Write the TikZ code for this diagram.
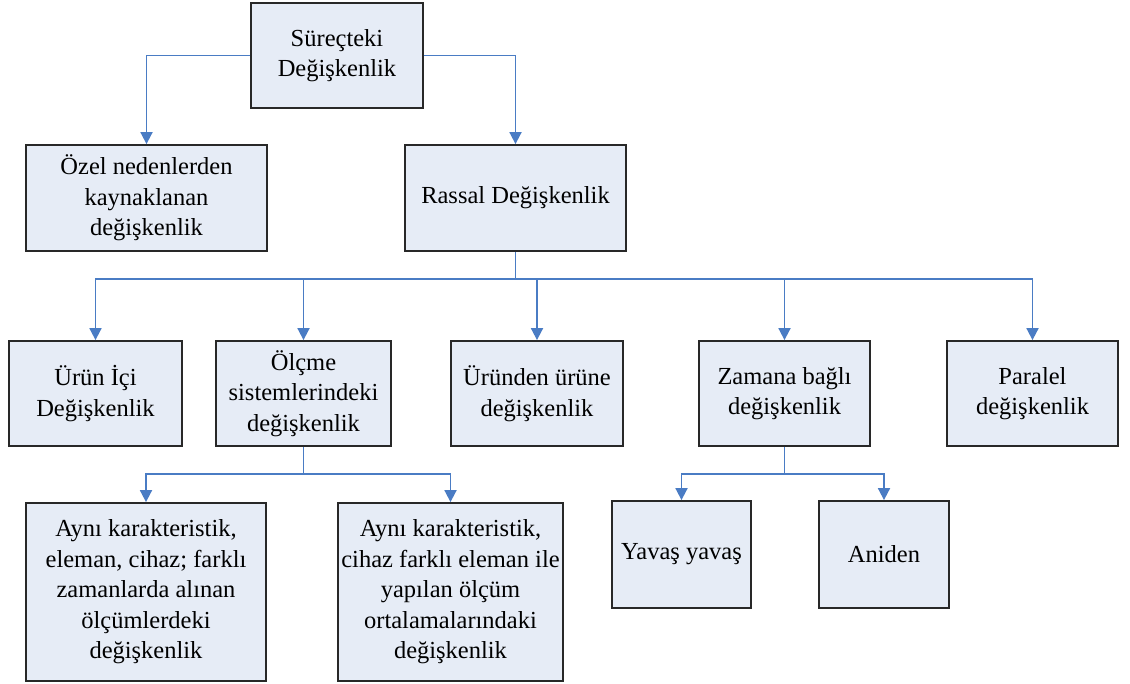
\documentclass[tikz,border=0pt]{standalone}
\usepackage{fontspec}
\setmainfont{Liberation Serif}
\usetikzlibrary{arrows.meta}
\definecolor{boxfill}{RGB}{230,236,246}
\definecolor{boxline}{RGB}{40,40,40}
\definecolor{conn}{RGB}{74,124,196}
\begin{document}
\begin{tikzpicture}[x=1pt,y=-1pt,
  box/.style={draw=boxline,line width=1.8pt,fill=boxfill,align=center,inner sep=2pt,
    font=\fontsize{24.5}{30.5}\selectfont},
  arr/.style={draw=conn,line width=1.8pt,-{Triangle[width=12pt,length=12pt]}},
  ln/.style={draw=conn,line width=1.8pt}]
\useasboundingbox (0,0) rectangle (1130,684);
\node[box,minimum width=172pt,minimum height=105pt] (top) at (337,55.5) {Süreçteki\\Değişkenlik};
\node[box,minimum width=241pt,minimum height=106pt] (ozel) at (146.5,198) {Özel nedenlerden\\kaynaklanan\\değişkenlik};
\node[box,minimum width=221pt,minimum height=106pt] (rassal) at (515.5,198) {Rassal Değişkenlik};
\node[box,minimum width=173pt,minimum height=105pt] (urunici) at (95.5,393.5) {Ürün İçi\\Değişkenlik};
\node[box,minimum width=175pt,minimum height=105pt] (olcme) at (303.5,393.5) {Ölçme\\sistemlerindeki\\değişkenlik};
\node[box,minimum width=172pt,minimum height=105pt] (urunden) at (537,393.5) {Üründen ürüne\\değişkenlik};
\node[box,minimum width=171pt,minimum height=105pt] (zamana) at (784.5,393.5) {Zamana bağlı\\değişkenlik};
\node[box,minimum width=171pt,minimum height=105pt] (paralel) at (1032.5,393.5) {Paralel\\değişkenlik};
\node[box,minimum width=240pt,minimum height=178pt] (ayni1) at (146,592) {Aynı karakteristik,\\eleman, cihaz; farklı\\zamanlarda alınan\\ölçümlerdeki\\değişkenlik};
\node[box,minimum width=225pt,minimum height=178pt] (ayni2) at (450.5,592) {Aynı karakteristik,\\cihaz farklı eleman ile\\yapılan ölçüm\\ortalamalarındaki\\değişkenlik};
\node[box,minimum width=139pt,minimum height=107pt] (yavas) at (681.5,554.5) {Yavaş yavaş};
\node[box,minimum width=130pt,minimum height=107pt] (aniden) at (884,554.5) {Aniden};
\coordinate (b1) at (515.5,279);
\coordinate (b2) at (303.5,474);
\coordinate (b3) at (784.5,474);
\draw[arr] (top.west) -| (ozel.north);
\draw[arr] (top.east) -| (rassal.north);
\draw[ln] (rassal.south) -- (b1);
\draw[arr] (b1) -| (urunici.north);
\draw[arr] (b1) -| (olcme.north);
\draw[arr] (b1) -| (urunden.north);
\draw[arr] (b1) -| (zamana.north);
\draw[arr] (b1) -| (paralel.north);
\draw[ln] (olcme.south) -- (b2);
\draw[arr] (b2) -| (ayni1.north);
\draw[arr] (b2) -| (ayni2.north);
\draw[ln] (zamana.south) -- (b3);
\draw[arr] (b3) -| (yavas.north);
\draw[arr] (b3) -| (aniden.north);
\end{tikzpicture}
\end{document}
